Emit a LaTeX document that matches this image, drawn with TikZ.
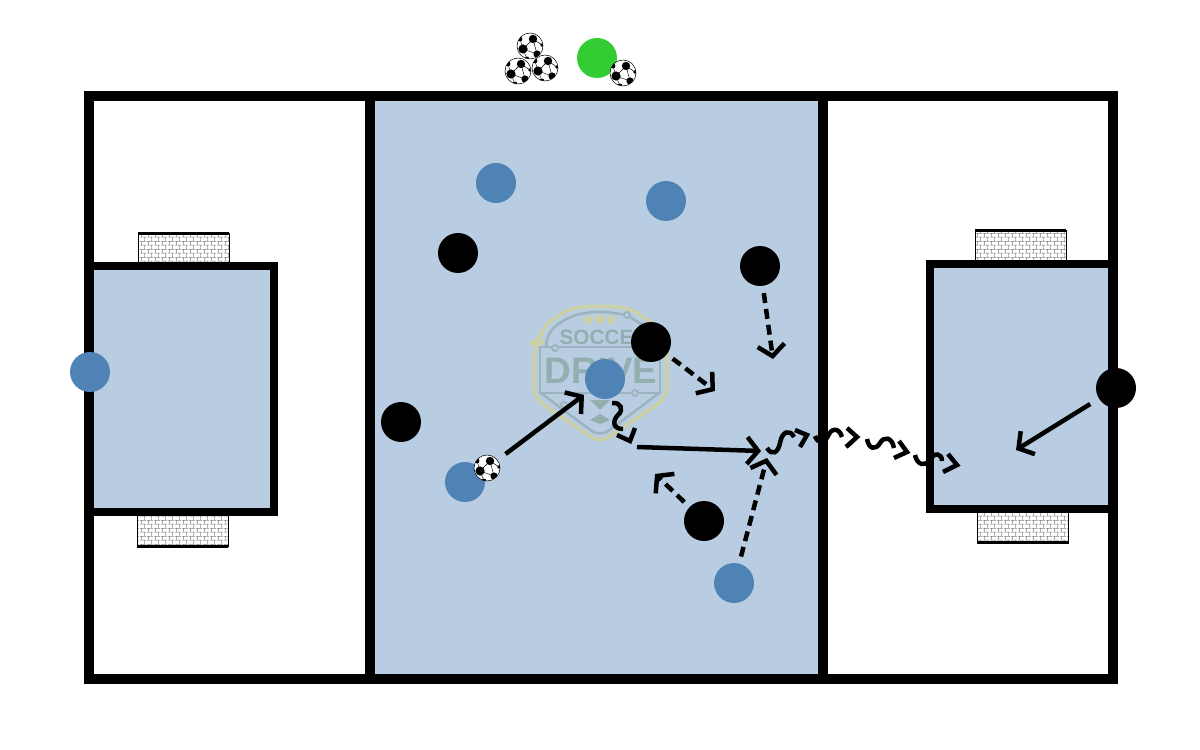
\documentclass[tikz,border=0pt]{standalone}
\usepackage{fontspec}
\setmainfont{Liberation Sans}
\usepackage{tikz}
\usetikzlibrary{arrows.meta, patterns, shapes.geometric}
\definecolor{zoneblue}{RGB}{184,205,225}
\definecolor{teamblue}{RGB}{79,131,181}
\definecolor{coachgreen}{RGB}{51,204,51}
\definecolor{logokhaki}{RGB}{205,207,165}
\definecolor{logoline}{RGB}{155,180,190}
\definecolor{logotext}{RGB}{146,175,176}
\pgfdeclarepatternformonly{finenet}{\pgfqpoint{0pt}{0pt}}{\pgfqpoint{4pt}{4.4pt}}{\pgfqpoint{4pt}{4.4pt}}{
  \pgfsetlinewidth{0.35pt}
  \pgfpathmoveto{\pgfqpoint{0pt}{1.1pt}}\pgfpathlineto{\pgfqpoint{4pt}{1.1pt}}
  \pgfpathmoveto{\pgfqpoint{0pt}{3.3pt}}\pgfpathlineto{\pgfqpoint{4pt}{3.3pt}}
  \pgfpathmoveto{\pgfqpoint{1pt}{1.1pt}}\pgfpathlineto{\pgfqpoint{1pt}{3.3pt}}
  \pgfpathmoveto{\pgfqpoint{3pt}{3.3pt}}\pgfpathlineto{\pgfqpoint{3pt}{4.4pt}}
  \pgfpathmoveto{\pgfqpoint{3pt}{0pt}}\pgfpathlineto{\pgfqpoint{3pt}{1.1pt}}
  \pgfusepath{stroke}
}

\tikzset{
  player/.style={circle, minimum size=0.8cm, inner sep=0pt},
  blueplayer/.style={player, fill=teamblue},
  blackplayer/.style={player, fill=black},
  ball/.style={
    circle, draw=black, line width=0.3pt, fill=white, minimum size=0.52cm, inner sep=0pt,
    path picture={
      \fill[black] (-7,3) circle (4.6);
      \fill[black] (3,-7) circle (4.2);
      \fill[black] (7,8) circle (3.6);
      \fill[black] (-10,-7) circle (2.4);
      \fill[black] (-3,13) circle (2.4);
      \fill[black] (12,-1) circle (1.8);
      \draw[line width=0.25pt] (-7,3) -- (3,-7) -- (7,8) -- (-7,3) (-7,3) -- (-10,-7) (-7,3) -- (-3,13) (3,-7) -- (12,-1);
    }
  },
  goalnet/.style={
    draw=black, line width=0.4pt, pattern=finenet, pattern color=gray,
    minimum width=1.82cm, minimum height=0.62cm, inner sep=0pt
  },
  frameline/.style={line width=0.2cm},
  boxline/.style={line width=0.16cm},
  pass/.style={-{Straight Barb[length=2.2mm, width=5.4mm]}, line width=0.09cm},
  run/.style={pass, dash pattern=on 0.2cm off 0.12cm, shorten <=0.14cm},
  dribble/.style={line width=0.09cm}
}

\begin{document}
\begin{tikzpicture}[x=0.02cm, y=-0.02cm]
\useasboundingbox (0,0) rectangle (1200,750);
% goals
\node[goalnet] (goalA) at (183.5,249) {};
\node[goalnet] (goalB) at (182.5,531) {};
\node[goalnet] (goalC) at (1020.5,246) {};
\node[goalnet] (goalD) at (1023,527) {};
\draw[line width=0.06cm] (goalA.north west) -- (goalA.north east);
\draw[line width=0.06cm] (goalB.south west) -- (goalB.south east);
\draw[line width=0.06cm] (goalC.north west) -- (goalC.north east);
\draw[line width=0.06cm] (goalD.south west) -- (goalD.south east);
% zones
\fill[zoneblue] (370,96) rectangle (823,679);
\draw[boxline, fill=zoneblue] (89,266) rectangle (274,512);
\draw[boxline, fill=zoneblue] (930,264) rectangle (1113,509);
% logo
\draw[logokhaki, line width=0.07cm, rounded corners=6pt] (600,306) -- (570,308) -- (542,327) -- (540,342) -- (534,343) -- (534,398)
  -- (563,418) -- (600,443) -- (637,418) -- (667,398) -- (667,343) -- (660,342) -- (658,327) -- (630,308) -- cycle;
\draw[logoline, line width=0.05cm, rounded corners=6pt] (627,315) -- (600,311) -- (572,315) -- (548,331) -- (546,347)
  (654,347) -- (652,331) -- (627,315) (541,393) -- (566,412) -- (600,437) -- (634,412) -- (659,393);
\draw[logoline, line width=0.05cm] (540,347) rectangle (660,393);
\draw[logoline, line width=0.04cm, fill=zoneblue] (627,315) circle (3) (555,348) circle (3) (635,393) circle (3) (564,405) circle (3);
\foreach \starx/\stary in {588/320, 600/319, 611/320}
  \node[star, star points=5, fill=logokhaki, minimum size=0.22cm, inner sep=0pt] at (\starx,\stary) {};
\node[text=logotext, font=\bfseries\fontsize{11.8pt}{12pt}\selectfont] (soccer) at (604,337) {SOCCER};
\node[text=logotext, font=\bfseries\fontsize{21pt}{21pt}\selectfont] (drive) at (601,371) {DRIVE};
\fill[logotext] (590,400) -- (600,410) -- (610,400) -- cycle (590,420) -- (600,414) -- (610,420) -- (600,424) -- cycle;
% outer frame
\draw[frameline] (89,96) rectangle (1113,679);
\draw[frameline] (370,96) rectangle (823,679);
% players
\node[blueplayer] (blueA) at (496,183) {};
\node[blueplayer] (blueB) at (666,201) {};
\node[blueplayer] (blueC) at (605,379) {};
\node[blueplayer] (blueD) at (465,482) {};
\node[blueplayer] (blueE) at (734,583) {};
\node[blueplayer] (keeperA) at (90,372) {};
\node[blackplayer] (blackA) at (458,253) {};
\node[blackplayer] (blackB) at (760,266) {};
\node[blackplayer] (blackC) at (651,342) {};
\node[blackplayer] (blackD) at (401,422) {};
\node[blackplayer] (blackE) at (704,521) {};
\node[blackplayer] (keeperB) at (1116,388) {};
\node[player, fill=coachgreen] (coach) at (597,58) {};
% balls
\node[ball] (ballA) at (530,46) {};
\node[ball] (ballB) at (518,71) {};
\node[ball] (ballC) at (545,68) {};
\node[ball] (ballD) at (623,73) {};
\node[ball] (ballE) at (487,468) {};
% free ends
\coordinate (passA) at (761,451);
\coordinate (passB) at (637,447);
\coordinate (shotA) at (1016,450);
\coordinate (runA) at (773,359);
\coordinate (runB) at (715,391);
\coordinate (runC) at (655,474);
\coordinate (runD) at (767,458);
% passes and runs
\draw[pass, shorten <=0.2cm, shorten >=0.12cm] (ballE) -- (blueC);
\draw[pass] (passB) -- (passA);
\draw[pass, shorten <=0.2cm] (keeperB) -- (shotA);
\draw[run] (blackB) -- (runA);
\draw[run] (blackC) -- (runB);
\draw[run] (blackE) -- (runC);
\draw[run] (blueE) -- (runD);
% dribbles
\draw[dribble] (612,403) .. controls (621,402) and (624,410) .. (618,415) .. controls (612,421) and (613,429) .. (623,429)
  (617,435) -- (630,441) -- (635,428);
\draw[dribble] (767,448) .. controls (772,456) and (778,453) .. (780,443) .. controls (782,431) and (790,429) .. (794,437)
  (795,430) -- (807,435) -- (800,447);
\draw[dribble] (815,436) .. controls (818,444) and (824,444) .. (828,436) .. controls (831,428) and (839,427) .. (842,437)
  (847,428) -- (857,437) -- (846,447);
\draw[dribble] (867,439) .. controls (869,450) and (876,450) .. (880,443) .. controls (884,436) and (892,437) .. (894,448)
  (899,441) -- (907,452) -- (894,458);
\draw[dribble] (915,455) .. controls (917,465) and (925,467) .. (930,460) .. controls (934,452) and (942,453) .. (942,461)
  (948,454) -- (957,465) -- (943,472);
\end{tikzpicture}
\end{document}
